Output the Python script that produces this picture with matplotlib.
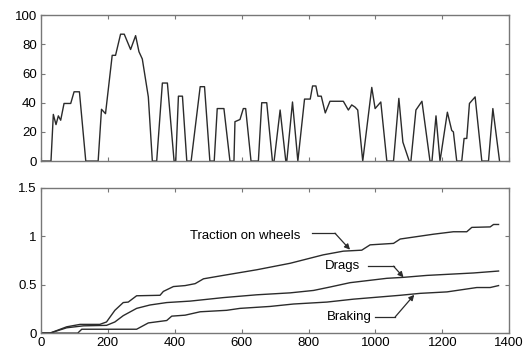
import matplotlib
matplotlib.use("Agg")
import matplotlib.pyplot as plt

plt.rcParams['font.family'] = ['Liberation Sans', 'DejaVu Sans']
plt.rcParams['font.size'] = 9.5

# speed profile (top)
speed_t = [0, 30, 37, 45, 52, 59, 69, 89, 99, 115, 134, 171, 181, 193, 213, 223, 238, 249,
           268, 283, 293, 303, 321, 333, 346, 363, 378, 398, 403, 411, 423, 436, 449, 476,
           489, 505, 518, 527, 547, 565, 577, 580, 595, 605, 612, 628, 650, 660, 675, 692,
           697, 715, 732, 735, 752, 768, 788, 805, 812, 822, 828, 838, 850, 864, 904, 919,
           929, 939, 947, 962, 989, 999, 1016, 1034, 1054, 1070, 1082, 1101, 1106, 1121,
           1139, 1163, 1169, 1181, 1193, 1215, 1228, 1233, 1243, 1258, 1265, 1273, 1281,
           1298, 1318, 1338, 1351, 1371]
speed_v = [0, 0, 32, 25, 31, 28, 39.5, 39.5, 47.5, 47.5, 0, 0, 35.5, 32.5, 72.5, 72.5, 87, 87,
           76.5, 86, 75, 70, 44, 0, 0, 53.5, 53.5, 0, 0, 44.5, 44.5, 0, 0, 51,
           51, 0, 0, 36, 36, 0, 0, 27, 28.5, 36, 36, 0, 0, 40, 40, 0,
           0, 35, 0, 0, 40.5, 0, 42.5, 42.5, 51.5, 51.5, 44.5, 44.5, 33, 41, 41, 35,
           38.5, 37, 35, 0, 50.5, 36, 40.5, 0, 0, 43, 13, 0, 0, 35,
           41, 0, 0, 31, 0, 33.5, 21, 20, 0, 0, 15.5, 15.5, 39.5,
           44, 0, 0, 36, 0]

# cumulative energies (bottom)
traction_t = [0, 27, 77, 117, 176, 196, 221, 246, 261, 286, 356, 366, 396, 431, 461, 486,
              545, 645, 745, 844, 904, 959, 984, 1054, 1074, 1174, 1233, 1273, 1288, 1343,
              1353, 1368]
traction_v = [0, 0, 0.065, 0.09, 0.09, 0.115, 0.235, 0.315, 0.32, 0.385, 0.39, 0.43, 0.48,
              0.49, 0.51, 0.56, 0.595, 0.653, 0.72, 0.807, 0.845, 0.855, 0.91, 0.925, 0.97,
              1.02, 1.045, 1.045, 1.09, 1.095, 1.12, 1.12]
drags_t = [0, 27, 77, 127, 196, 221, 246, 286, 326, 376, 446, 545, 645, 745, 815, 864, 924,
           1034, 1084, 1154, 1293, 1368]
drags_v = [0, 0, 0.055, 0.075, 0.08, 0.115, 0.18, 0.255, 0.29, 0.315, 0.33, 0.366, 0.395,
           0.415, 0.44, 0.475, 0.52, 0.565, 0.575, 0.595, 0.62, 0.64]
braking_t = [0, 110, 122, 286, 321, 376, 391, 431, 476, 555, 595, 685, 755, 855, 934, 1074,
             1134, 1214, 1303, 1343, 1368]
braking_v = [0, 0, 0.04, 0.04, 0.105, 0.13, 0.175, 0.185, 0.22, 0.235, 0.255, 0.275, 0.3,
             0.32, 0.35, 0.39, 0.41, 0.425, 0.47, 0.47, 0.49]

line_col = '#2b2b2b'
spine_col = '#777777'

fig = plt.figure(figsize=(5.25, 3.54), dpi=100)
ax1 = fig.add_axes([0.078, 0.545, 0.892, 0.412])
ax2 = fig.add_axes([0.078, 0.059, 0.892, 0.411])

ax1.plot(speed_t, speed_v, color=line_col, lw=1.0)
ax1.set_xlim(0, 1400)
ax1.set_ylim(0, 100)
ax1.set_yticks([0, 20, 40, 60, 80, 100])
ax1.set_xticks([0, 200, 400, 600, 800, 1000, 1200, 1400])
ax1.set_xticklabels([])

ax2.plot(traction_t, traction_v, color=line_col, lw=1.0)
ax2.plot(drags_t, drags_v, color=line_col, lw=1.0)
ax2.plot(braking_t, braking_v, color=line_col, lw=1.0)
ax2.set_xlim(0, 1400)
ax2.set_ylim(0, 1.5)
ax2.set_yticks([0, 0.5, 1, 1.5])
ax2.set_yticklabels(['0', '0.5', '1', '1.5'])
ax2.set_xticks([0, 200, 400, 600, 800, 1000, 1200, 1400])

for ax in (ax1, ax2):
    ax.tick_params(direction='in', top=True, right=True, length=3, width=0.8,
                   color=spine_col, pad=3, labelsize=9.5)
    for s in ax.spines.values():
        s.set_color(spine_col)
        s.set_linewidth(1.0)

# labels with leader lines
arrow = dict(arrowstyle='-|>', color=line_col, lw=0.9, mutation_scale=8, shrinkA=0, shrinkB=0)
ax2.text(612, 1.005, 'Traction on wheels', ha='center', va='center')
ax2.plot([810, 879], [1.03, 1.03], color=line_col, lw=0.9)
ax2.annotate('', xy=(924, 0.86), xytext=(879, 1.03), arrowprops=arrow)

ax2.text(901, 0.69, 'Drags', ha='center', va='center')
ax2.plot([979, 1054], [0.69, 0.69], color=line_col, lw=0.9)
ax2.annotate('', xy=(1084, 0.575), xytext=(1054, 0.69), arrowprops=arrow)

ax2.text(922, 0.167, 'Braking', ha='center', va='center')
ax2.plot([999, 1059], [0.167, 0.167], color=line_col, lw=0.9)
ax2.annotate('', xy=(1116, 0.395), xytext=(1059, 0.167), arrowprops=arrow)

fig.savefig('out.png', dpi=100)
